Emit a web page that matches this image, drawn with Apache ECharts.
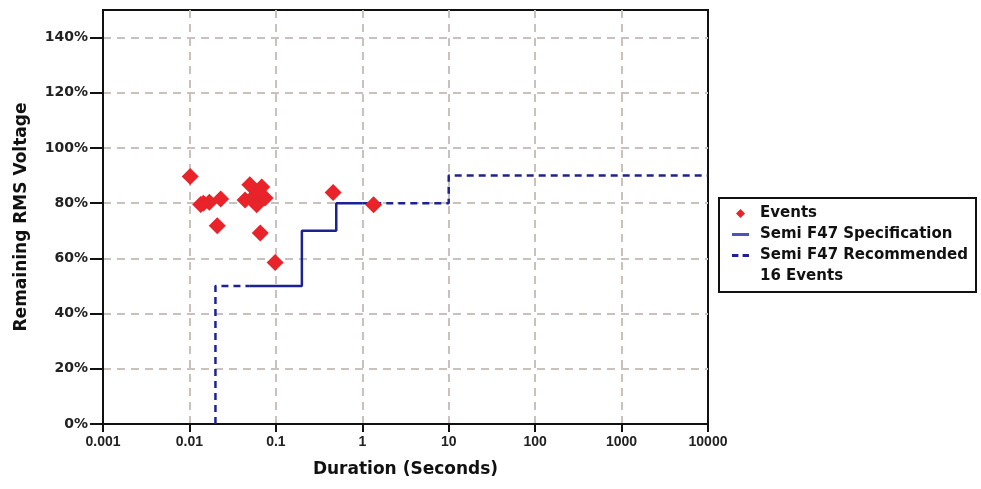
<!DOCTYPE html>
<html>
<head>
<meta charset="utf-8">
<script src="https://cdn.jsdelivr.net/npm/echarts@6/dist/echarts.min.js"></script>
<style>
  html, body { margin: 0; padding: 0; background: #fff; }
  #chart { width: 981px; height: 489px; }
</style>
</head>
<body>
<div id="chart"></div>
<script>
// event points: [duration s, remaining voltage %]
var eventDur = [0.0102, 0.0135, 0.0145, 0.017, 0.023, 0.021, 0.044, 0.05, 0.058, 0.06, 0.0687, 0.075, 0.066, 0.098, 0.46, 1.35];
var eventVolt = [89.7, 79.5, 80.0, 80.3, 81.5, 71.8, 81.2, 86.7, 83.0, 79.4, 85.9, 81.9, 69.2, 58.5, 83.9, 79.4];

// Semi F47 specification (solid)
var specDur = [0.05, 0.2, 0.2, 0.5, 0.5, 1];
var specVolt = [50, 50, 70, 70, 80, 80];

// Semi F47 recommended (dashed), null breaks the line
var recDur = [0.02, 0.02, 0.05, null, 1, 10, 10, 10000];
var recVolt = [0, 50, 50, null, 80, 80, 90, 90];

var xTicks = ['0.001', '0.01', '0.1', '1', '10', '100', '1000', '10000'];

function pairs(xs, ys) {
    var out = [];
    for (var i = 0; i < xs.length; i++) {
        out.push(xs[i] === null ? [null, null] : [xs[i], ys[i]]);
    }
    return out;
}

var myChart = echarts.init(document.getElementById('chart'));
var font = 'DejaVu Sans, Arial, sans-serif';
var gridLine = {
    show: true, showMinLine: false, showMaxLine: false,
    lineStyle: { color: '#c9c1bd', type: [8, 6], width: 2 }
};

var option = {
    animation: false,
    textStyle: { fontFamily: font },
    grid: {
        left: 103, top: 10, right: 273, bottom: 65,
        show: true, borderColor: '#111', borderWidth: 2
    },
    legend: {
        orient: 'vertical',
        left: 719, top: 198,
        padding: [8, 8, 8, 13],
        borderColor: '#111', borderWidth: 2,
        itemWidth: 17, itemHeight: 9, itemGap: 6,
        textStyle: { fontSize: 15, fontWeight: 'bold', color: '#111', fontFamily: font, padding: [0, 0, 0, 6] },
        data: [
            { name: 'Events', icon: 'path://M5,0 L10,5 L5,10 L0,5 Z' },
            { name: 'Semi F47 Specification', icon: 'path://M0,0 H17 V3 H0 Z', itemStyle: { color: '#4a55b5' } },
            { name: 'Semi F47 Recommended', icon: 'path://M0,0 H6 V3 H0 Z M10,0 H16 V3 H10 Z' },
            { name: '16 Events', icon: 'none' }
        ]
    },
    xAxis: {
        type: 'log', logBase: 10, min: 0.001, max: 10000,
        name: 'Duration (Seconds)', nameLocation: 'middle', nameGap: 37,
        nameTextStyle: { fontSize: 17, fontWeight: 'bold', color: '#111' },
        axisLine: { lineStyle: { color: '#111', width: 2 } },
        axisTick: { show: true, length: 8, lineStyle: { color: '#111', width: 2 } },
        axisLabel: {
            fontSize: 14, fontWeight: 'bold', color: '#222', margin: 11,
            fontFamily: 'Liberation Sans, Arial, sans-serif',
            formatter: function (v) {
                var i = Math.round(Math.log10(v)) + 3;
                return xTicks[i] !== undefined ? xTicks[i] : '';
            }
        },
        minorTick: { show: false },
        splitLine: gridLine
    },
    yAxis: {
        type: 'value', min: 0, max: 150, interval: 20,
        name: 'Remaining RMS Voltage', nameLocation: 'middle', nameGap: 73,
        nameTextStyle: { fontSize: 17, fontWeight: 'bold', color: '#111' },
        axisLine: { show: true, lineStyle: { color: '#111', width: 2 } },
        axisTick: { show: true, length: 13, lineStyle: { color: '#111', width: 2 } },
        axisLabel: {
            fontSize: 14, fontWeight: 'bold', color: '#222', margin: 15,
            showMaxLabel: false,
            formatter: function (v) { return v > 140 ? '' : v + '%'; }
        },
        splitLine: gridLine
    },
    series: [
        {
            name: 'Semi F47 Specification', type: 'line',
            data: pairs(specDur, specVolt), symbol: 'none',
            lineStyle: { color: '#1c2390', width: 2.5 },
            itemStyle: { color: '#1c2390' }
        },
        {
            name: 'Semi F47 Recommended', type: 'line',
            data: pairs(recDur, recVolt), symbol: 'none', connectNulls: false,
            lineStyle: { color: '#1c2390', width: 2.5, type: [7, 5] },
            itemStyle: { color: '#1c2390' }
        },
        {
            name: 'Events', type: 'scatter', symbol: 'diamond', symbolSize: 17,
            data: pairs(eventDur, eventVolt),
            itemStyle: { color: '#e8232a', opacity: 1 }, z: 5
        },
        { name: '16 Events', type: 'scatter', data: [] }
    ]
};
myChart.setOption(option);
</script>
</body>
</html>
